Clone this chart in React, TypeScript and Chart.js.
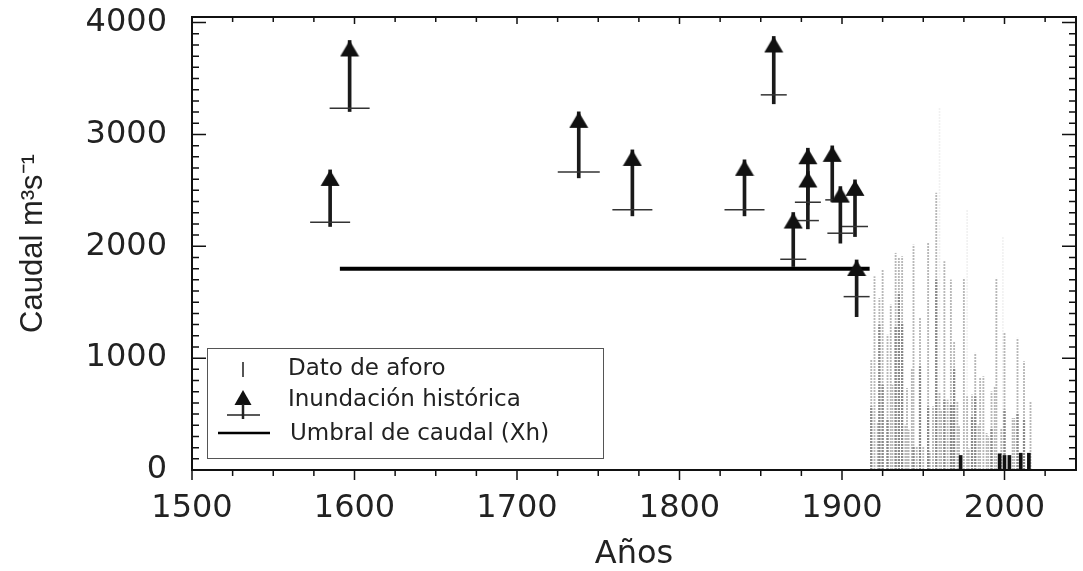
import React, { useEffect, useRef } from "react";
import { Chart, registerables } from "chart.js";

Chart.register(...registerables);

// ---------------- data ----------------
const X_MIN = 1500;
const X_MAX = 2044;
const Y_MIN = 0;
const Y_MAX = 4050;

const xTickValues = [1500, 1600, 1700, 1800, 1900, 2000];
const yTickValues = [0, 1000, 2000, 3000, 4000];

const xAxisTitle = "Años";
const yAxisTitle = "Caudal m³s⁻¹";
const legendLabels = ["Dato de aforo", "Inundación histórica", "Umbral de caudal (Xh)"];

// historical floods: lower-bound mark, arrow tip, bottom of the stem
const floodYears = [1585, 1597, 1738, 1771, 1840, 1858, 1870, 1879, 1879, 1894, 1899, 1908, 1909];
const floodLower = [2215, 3235, 2665, 2326, 2326, 3354, 1884, 2394, 2230, 2415, 2117, 2177, 1550];
const floodUpper = [2683, 3840, 3202, 2862, 2773, 3876, 2302, 2877, 2669, 2898, 2534, 2594, 1878];
const floodStemBase = [2177, 3205, 2612, 2272, 2272, 3274, 1819, 2370, 2156, 2400, 2028, 2087, 1371];

// discharge threshold (Xh)
const thresholdYears = [1591, 1917];
const thresholdValue = 1800;

// gauged data: annual peaks and inner values
const gaugeYears = [
  1918, 1920, 1922, 1923, 1925, 1928, 1930, 1931, 1933, 1935, 1937, 1939, 1940, 1941, 1943,
  1944, 1946, 1948, 1950, 1953, 1954, 1956, 1958, 1960, 1961, 1963, 1965, 1967, 1968, 1969,
  1971, 1972, 1975, 1977, 1978, 1980, 1982, 1984, 1985, 1987, 1989, 1990, 1992, 1994, 1995,
  1998, 2000, 2005, 2006, 2008, 2012, 2016,
];
const gaugePeak = [
  984, 1729, 417, 1535, 1789, 1207, 1476, 760, 1938, 1894, 1908, 402, 730, 358, 909,
  2012, 209, 1357, 209, 2027, 164, 566, 2475, 685, 536, 1864, 626, 1700, 585, 1147,
  611, 388, 1714, 656, 190, 671, 1044, 402, 820, 835, 328, 298, 700, 745, 1714,
  373, 1222, 462, 462, 1178, 969, 611,
];
const gaugeInner = [
  566, null, null, 1297, 760, 447, null, null, 1282, 1580, 1312, null, null, null, null,
  209, null, 924, null, 566, null, null, 1700, null, null, 626, null, 585, null, 909,
  null, null, null, null, null, 477, 656, null, null, null, null, null, 373, null, null,
  null, 537, null, null, 507, 447, null,
];
const gaugeFaintYears = [1960, 1977, 1999];
const gaugeFaintPeak = [3238, 2330, 2080];
const gaugeRecentYears = [1973, 1997, 2000, 2003, 2010, 2015];
const gaugeRecentValues = [130, 145, 130, 130, 150, 150];

// ---------------- styles ----------------
const floodMarkRadius = [20, 20, 21, 20, 20, 13, 13, 13, 11, 7, 13, 13, 13];
const TICK_FONT = "'DejaVu Sans', sans-serif";
const TEXT = "#222";

const pts = (xs: number[], ys: (number | null)[]) =>
  xs.map((x, i) => ({ x, y: ys[i] })).filter((p) => p.y !== null);

const framePlugin = {
  id: "frame",
  afterDatasetsDraw(chart: any) {
    const { ctx, chartArea: a, scales } = chart;
    const x = scales.x;
    const y = scales.y;
    ctx.save();
    ctx.strokeStyle = "#111";
    ctx.lineWidth = 1.5;
    ctx.beginPath();
    for (let v = Y_MIN; v <= Y_MAX; v += 100) {
      const py = y.getPixelForValue(v);
      const len = v % 1000 === 0 ? 14 : 7;
      ctx.moveTo(a.left, py);
      ctx.lineTo(a.left + len, py);
      ctx.moveTo(a.right, py);
      ctx.lineTo(a.right - len, py);
    }
    for (let yr = X_MIN; yr <= X_MAX; yr += 25) {
      const px = x.getPixelForValue(yr);
      const major = yr % 100 === 0;
      ctx.moveTo(px, a.bottom);
      ctx.lineTo(px, a.bottom + (major ? 10 : 6));
      ctx.moveTo(px, a.top);
      ctx.lineTo(px, a.top + (major ? 7 : 5));
    }
    ctx.stroke();
    ctx.lineWidth = 2;
    ctx.strokeRect(a.left, a.top, a.right - a.left, a.bottom - a.top);
    ctx.restore();
  },
};

const legendPlugin = {
  id: "floodLegend",
  afterDraw(chart: any) {
    const { ctx, chartArea: a } = chart;
    const bx = a.left + 15;
    const by = a.bottom - 122;
    const bw = 396;
    const bh = 110;
    ctx.save();
    ctx.fillStyle = "#fff";
    ctx.fillRect(bx, by, bw, bh);
    ctx.strokeStyle = "#555";
    ctx.lineWidth = 1;
    ctx.strokeRect(bx + 0.5, by + 0.5, bw, bh);

    const sx = bx + 36;
    const tx = bx + 81;
    // gauge data symbol
    ctx.strokeStyle = "#555";
    ctx.lineWidth = 2;
    ctx.beginPath();
    ctx.moveTo(sx, by + 14);
    ctx.lineTo(sx, by + 29);
    ctx.stroke();
    // historical flood symbol
    ctx.fillStyle = "#111";
    ctx.beginPath();
    ctx.moveTo(sx, by + 42);
    ctx.lineTo(sx + 8.5, by + 57);
    ctx.lineTo(sx - 8.5, by + 57);
    ctx.closePath();
    ctx.fill();
    ctx.strokeStyle = "#222";
    ctx.lineWidth = 2.5;
    ctx.beginPath();
    ctx.moveTo(sx, by + 56);
    ctx.lineTo(sx, by + 71);
    ctx.stroke();
    ctx.lineWidth = 1.5;
    ctx.beginPath();
    ctx.moveTo(sx - 16, by + 67);
    ctx.lineTo(sx + 17, by + 67);
    ctx.stroke();
    // threshold symbol
    ctx.strokeStyle = "#000";
    ctx.lineWidth = 2.5;
    ctx.beginPath();
    ctx.moveTo(bx + 11, by + 85);
    ctx.lineTo(bx + 63, by + 85);
    ctx.stroke();

    ctx.fillStyle = TEXT;
    ctx.font = `23px ${TICK_FONT}`;
    ctx.textBaseline = "middle";
    ctx.textAlign = "left";
    ctx.fillText(legendLabels[0], tx, by + 21);
    ctx.fillText(legendLabels[1], tx, by + 52);
    ctx.fillText(legendLabels[2], tx + 2, by + 86);
    ctx.restore();
  },
};

export default function App() {
  const ref = useRef<HTMLCanvasElement>(null);

  useEffect(() => {
    const canvas = ref.current!;
    const ctx = canvas.getContext("2d")!;

    const makeDots = (color: string) => {
      const p = document.createElement("canvas");
      p.width = 1;
      p.height = 3;
      const c = p.getContext("2d")!;
      c.fillStyle = color;
      c.fillRect(0, 0, 1, 2);
      return ctx.createPattern(p, "repeat")!;
    };

    const head = document.createElement("canvas");
    head.width = 20;
    head.height = 40;
    {
      const c = head.getContext("2d")!;
      c.fillStyle = "#111";
      c.beginPath();
      c.moveTo(10, 20);
      c.lineTo(19.5, 36);
      c.lineTo(0.5, 36);
      c.closePath();
      c.fill();
    }

    const chart = new Chart(canvas, {
      type: "bar",
      data: {
        datasets: [
          { type: "bar", label: "faint", data: pts(gaugeFaintYears, gaugeFaintPeak) as any,
            backgroundColor: makeDots("rgba(225,225,225,0.45)") as any, barThickness: 1, order: 10 },
          { type: "bar", label: legendLabels[0], data: pts(gaugeYears, gaugePeak) as any,
            backgroundColor: makeDots("#b8b8b8") as any, barThickness: 1.2, order: 9 },
          { type: "bar", label: "inner", data: pts(gaugeYears, gaugeInner) as any,
            backgroundColor: makeDots("#8a8a8a") as any, barThickness: 1.6, order: 8 },
          { type: "bar", label: "recent", data: pts(gaugeRecentYears, gaugeRecentValues) as any,
            backgroundColor: "#111", barThickness: 3, order: 7 },
          { type: "line", label: legendLabels[2], data: thresholdYears.map((x) => ({ x, y: thresholdValue })) as any,
            borderColor: "#000", borderWidth: 4, pointRadius: 0, order: 6 },
          { type: "bar", label: "stems",
            data: floodYears.map((x, i) => ({ x, y: [floodStemBase[i], floodUpper[i]] })) as any,
            backgroundColor: "#1a1a1a", barThickness: 3, order: 5 },
          { type: "scatter", label: "lower", data: pts(floodYears, floodLower) as any,
            pointStyle: "line", pointRadius: floodMarkRadius, borderColor: "#333", borderWidth: 1.5, order: 4 },
          { type: "scatter", label: legendLabels[1], data: pts(floodYears, floodUpper) as any,
            pointStyle: head as any, pointRadius: 10, order: 3 },
        ] as any,
      },
      options: {
        responsive: false,
        animation: false,
        devicePixelRatio: 1,
        layout: { autoPadding: false, padding: { top: 17, right: 7, left: 0, bottom: 0 } },
        datasets: { bar: { grouped: false } } as any,
        plugins: { legend: { display: false }, tooltip: { enabled: false } },
        scales: {
          x: {
            type: "linear", min: X_MIN, max: X_MAX, offset: false,
            grid: { display: false, drawTicks: false }, border: { display: false },
            afterBuildTicks: (s: any) => { s.ticks = xTickValues.map((value) => ({ value })); },
            afterFit: (s: any) => { s.height = 101; s.paddingLeft = 0; s.paddingRight = 0; s.paddingTop = 0; s.paddingBottom = 0; },
            ticks: { autoSkip: false, maxRotation: 0, padding: 23, color: TEXT,
              font: { family: TICK_FONT, size: 32, lineHeight: 1 }, callback: (v: any) => String(v) },
            title: { display: true, text: xAxisTitle, color: TEXT, align: "center",
              font: { family: TICK_FONT, size: 32, lineHeight: 1 }, padding: { top: 0, bottom: 0 } },
          },
          y: {
            type: "linear", min: Y_MIN, max: Y_MAX,
            grid: { display: false, drawTicks: false }, border: { display: false },
            afterBuildTicks: (s: any) => { s.ticks = yTickValues.map((value) => ({ value })); },
            afterFit: (s: any) => { s.width = 192; s.paddingLeft = 0; s.paddingRight = 0; s.paddingTop = 0; s.paddingBottom = 0; },
            ticks: { padding: 25, color: TEXT, font: { family: TICK_FONT, size: 32, lineHeight: 1 },
              callback: (v: any) => String(v) },
            title: { display: true, text: yAxisTitle, color: TEXT,
              font: { family: "'Liberation Sans Narrow', 'Liberation Sans', sans-serif", size: 31, lineHeight: 1 },
              padding: { top: 18, bottom: 0 } },
          },
        },
      },
      plugins: [framePlugin, legendPlugin],
    });

    return () => chart.destroy();
  }, []);

  return (
    <div style={{ position: "fixed", left: 0, top: 0, width: 1083, height: 571, background: "#fff" }}>
      <canvas ref={ref} width={1083} height={571} style={{ display: "block" }} />
    </div>
  );
}
